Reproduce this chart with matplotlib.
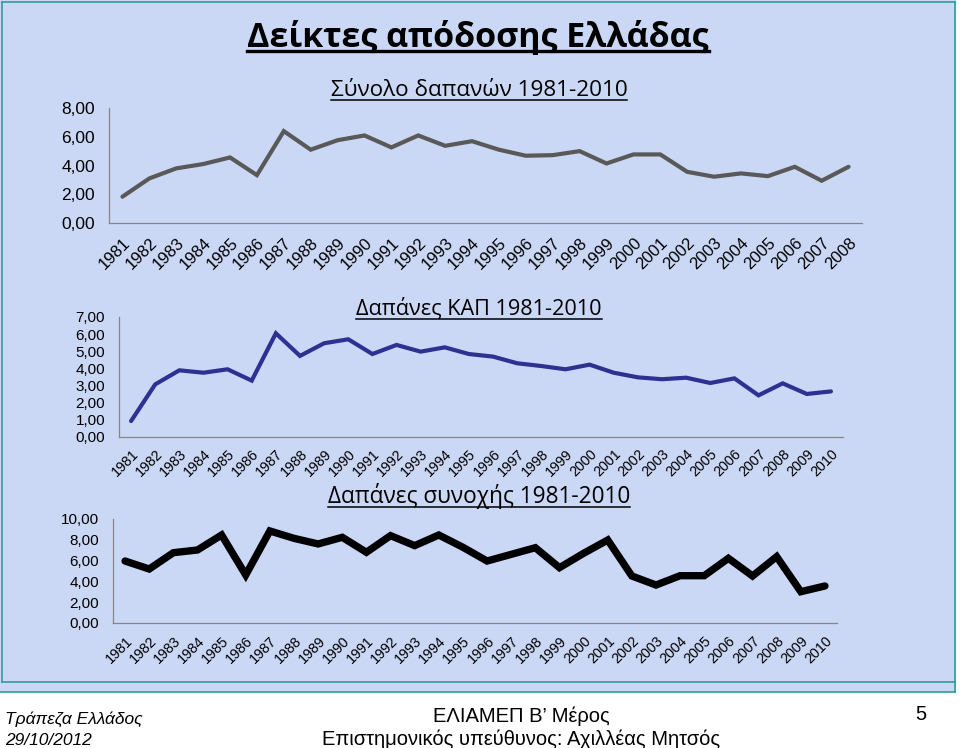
import numpy as np
import matplotlib
matplotlib.use("Agg")
import matplotlib.pyplot as plt
from matplotlib.lines import Line2D
from matplotlib.patches import Rectangle

# ---- data ----
years_total = [str(y) for y in range(1981, 2009)]
total = [1.83, 3.10, 3.80, 4.10, 4.56, 3.33, 6.39, 5.10, 5.76, 6.09,
         5.26, 6.09, 5.37, 5.69, 5.10, 4.68, 4.72, 5.00, 4.14, 4.77,
         4.77, 3.56, 3.22, 3.45, 3.26, 3.91, 2.94, 3.91]

years_kap = [str(y) for y in range(1981, 2011)]
kap = [0.93, 3.07, 3.89, 3.75, 3.95, 3.29, 6.05, 4.73, 5.47, 5.70,
       4.84, 5.37, 4.98, 5.23, 4.84, 4.69, 4.30, 4.14, 3.95, 4.22,
       3.75, 3.48, 3.37, 3.46, 3.15, 3.42, 2.43, 3.13, 2.51, 2.66]

years_coh = [str(y) for y in range(1981, 2011)]
coh = [5.96, 5.19, 6.76, 7.02, 8.46, 4.62, 8.85, 8.14, 7.60, 8.24,
       6.80, 8.40, 7.44, 8.46, 7.28, 5.96, 6.60, 7.24, 5.32, 6.70,
       7.98, 4.52, 3.65, 4.55, 4.55, 6.22, 4.52, 6.38, 3.01, 3.56]

W, H = 960, 748
fig = plt.figure(figsize=(W / 100, H / 100), dpi=100, facecolor='white')

def fx(x):
    return x / W

def fy(y):
    return 1 - y / H

# background panel and frame
bg = '#CBD8F5'
teal = '#2E9C98'
fig.add_artist(Rectangle((fx(0), fy(692)), fx(956), 692 / H, transform=fig.transFigure,
                         facecolor=bg, edgecolor='none', zorder=0))
for (x0, y0, x1, y1) in [(2, 2, 955, 2), (2, 2, 2, 682), (955, 2, 955, 692),
                         (2, 682, 955, 682), (0, 692, 955, 692)]:
    fig.add_artist(Line2D([fx(x0), fx(x1)], [fy(y0), fy(y1)], transform=fig.transFigure,
                          color=teal, lw=1.2, zorder=1))

title_font = ['Open Sans', 'DejaVu Sans']
num_font = ['Liberation Sans', 'DejaVu Sans']

def underlined(x, y, s, size, weight='normal', gap=3, lw=1.0):
    t = fig.text(fx(x), fy(y), s, ha='center', va='baseline', fontsize=size,
                 fontweight=weight, family=title_font, zorder=3)
    fig.canvas.draw()
    bb = t.get_window_extent(fig.canvas.get_renderer())
    fig.add_artist(Line2D([bb.x0 / W, bb.x1 / W], [fy(y + gap)] * 2,
                          transform=fig.transFigure, color='black', lw=lw, zorder=3))
    return t

underlined(478, 47, 'Δείκτες απόδοσης Ελλάδας', 24.5, weight='bold', gap=4, lw=2.4)
underlined(479, 96, 'Σύνολο δαπανών 1981-2010', 16.2, gap=4, lw=1.1)
underlined(479, 315, 'Δαπάνες ΚΑΠ 1981-2010', 15.6, gap=4, lw=1.1)
underlined(479, 503, 'Δαπάνες συνοχής 1981-2010', 16.3, gap=4, lw=1.1)

def chart(left, right, ytop, ybot, cats, vals, ymax, step, color, lw, ysize, xsize, xpad):
    ax = fig.add_axes([fx(left), fy(ybot), (right - left) / W, (ybot - ytop) / H])
    ax.set_facecolor('none')
    ax.plot(range(len(cats)), vals, color=color, lw=lw, solid_joinstyle='miter',
            solid_capstyle='round', clip_on=False)
    ax.set_xlim(-0.5, len(cats) - 0.5)
    ax.set_ylim(0, ymax)
    ax.set_yticks(np.arange(0, ymax + 0.01, step))
    ax.set_yticklabels([('%.2f' % v).replace('.', ',') for v in np.arange(0, ymax + 0.01, step)],
                       fontsize=ysize, family=num_font)
    ax.set_xticks(range(len(cats)))
    ax.set_xticklabels(cats, rotation=45, ha='right', rotation_mode='anchor',
                       fontsize=xsize, family=num_font)
    ax.tick_params(axis='both', length=0)
    ax.tick_params(axis='x', pad=xpad)
    ax.tick_params(axis='y', pad=10)
    for s in ['top', 'right']:
        ax.spines[s].set_visible(False)
    for s in ['left', 'bottom']:
        ax.spines[s].set_color('#868686')
        ax.spines[s].set_linewidth(0.9)
    return ax

chart(109, 862, 108, 223, years_total, total, 8, 2, '#595959', 3.0, 12.5, 12, 9)
chart(119, 843, 317, 437, years_kap, kap, 7, 1, '#2E3192', 3.0, 11, 10.3, 7)
chart(113, 837, 519, 623, years_coh, coh, 10, 2, 'black', 5.3, 11, 10.3, 8)

# footer
foot = ['Liberation Sans', 'DejaVu Sans']
fig.text(fx(5), fy(724), 'Τράπεζα Ελλάδος', style='italic', fontsize=12.5, family=foot, va='baseline')
fig.text(fx(5), fy(745), '29/10/2012', style='italic', fontsize=12.5, family=foot, va='baseline')
fig.text(fx(521), fy(722), 'ΕΛΙΑΜΕΠ Β\u2019 Μέρος', fontsize=14.5, family=foot, ha='center', va='baseline')
fig.text(fx(521), fy(745), 'Επιστημονικός υπεύθυνος: Αχιλλέας Μητσός', fontsize=14.5, family=foot,
         ha='center', va='baseline')
fig.text(fx(921), fy(720), '5', fontsize=14.5, family=foot, ha='center', va='baseline')

fig.savefig('out.png', dpi=100, facecolor='white')
